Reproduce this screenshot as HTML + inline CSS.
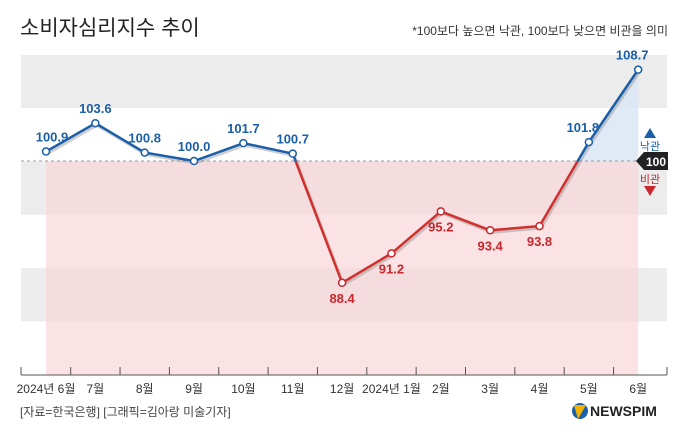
<!DOCTYPE html>
<html><head><meta charset="utf-8"><style>
body{margin:0;background:#fff;font-family:"Liberation Sans","Noto Sans CJK KR",sans-serif}
svg text{font-family:"Liberation Sans","Noto Sans CJK KR",sans-serif}
</style></head><body>
<svg id="c" width="680" height="442" viewBox="0 0 680 442">
<text x="20" y="35" font-size="21" fill="#222">소비자심리지수 추이</text>
<text x="668" y="35" font-size="12" fill="#333" text-anchor="end">*100보다 높으면 낙관, 100보다 낮으면 비관을 의미</text>
<g id="bands"></g>
<g id="fills"></g>
<line x1="21" y1="161" x2="638" y2="161" stroke="#999" stroke-dasharray="3,3"/>
<g id="lines"></g>
<g id="pts"></g>
<line x1="21" y1="375" x2="667" y2="375" stroke="#555"/>
<g id="xax"></g>
<polygon points="636,161 644,152 668,152 668,170 644,170" fill="#222"/>
<text x="656" y="166" font-size="12" font-weight="bold" fill="#fff" text-anchor="middle">100</text>
<polygon points="644,138 650,128 656,138" fill="#1a5fa8"/>
<text x="650" y="150" font-size="11" fill="#1a5fa8" text-anchor="middle">낙관</text>
<text x="650" y="183" font-size="11" fill="#c8282d" text-anchor="middle">비관</text>
<polygon points="644,186 656,186 650,196" fill="#c8282d"/>
<text x="20" y="416" font-size="12" fill="#444">[자료=한국은행] [그래픽=김아랑 미술기자]</text>
<circle cx="580" cy="411" r="8" fill="#1a5fa8"/>
<path d="M574 405 L586 405 L578 419 Z" fill="#f2b300"/>
<text x="590" y="416" font-size="14" font-weight="bold" fill="#222">NEWSPIM</text>
</svg>
<script>
const months=["2024년 6월","7월","8월","9월","10월","11월","12월","2024년 1월","2월","3월","4월","5월","6월"];
const values=[100.9,103.6,100.8,100.0,101.7,100.7,88.4,91.2,95.2,93.4,93.8,101.8,108.7];
const labels=["100.9","103.6","100.8","100.0","101.7","100.7","88.4","91.2","95.2","93.4","93.8","101.8","108.7"];
const NS="http://www.w3.org/2000/svg";
const X=i=>46+i*49.35, Y=v=>161-(v-100)*10.5;
function mk(t,a,p){const e=document.createElementNS(NS,t);for(const k in a)e.setAttribute(k,a[k]);p.appendChild(e);return e;}
const bands=document.getElementById('bands');
for(let k=0;k<6;k++){const r=mk('rect',{x:21,y:55+k*53.3,width:646,height:53.3,fill:k%2==0?'#ececec':'#fff'},bands);

}
const fills=document.getElementById('fills');
const pink=mk('rect',{x:X(0),y:161,width:X(12)-X(0),height:214,fill:'#f9d6d8',opacity:0.7},fills);


const xc=X(10)+(X(11)-X(10))*(100-values[10])/(values[11]-values[10]);
const bf=mk('polygon',{points:`${xc},161 ${X(11)},${Y(values[11])} ${X(12)},${Y(values[12])} ${X(12)},161`,fill:'#dce8f5',opacity:0.9},fills);


const pts=values.map((v,i)=>X(i)+','+Y(v)).join(' ');
const L=document.getElementById('lines');
const defs=mk('defs',{},L);
const c1=mk('clipPath',{id:'ab'},defs);mk('rect',{x:0,y:0,width:680,height:161},c1);
const c2=mk('clipPath',{id:'bl'},defs);mk('rect',{x:0,y:161,width:680,height:300},c2);
mk('polyline',{points:pts,fill:'none',stroke:'#888',opacity:0.4,'stroke-width':3,transform:'translate(1.5,2)'},L);
const lb=mk('polyline',{points:pts,fill:'none',stroke:'#1a5fa8','stroke-width':2.5,'clip-path':'url(#ab)'},L);


const lr=mk('polyline',{points:pts,fill:'none',stroke:'#d0312d','stroke-width':2.5,'clip-path':'url(#bl)'},L);


const P=document.getElementById('pts'),XA=document.getElementById('xax');
values.forEach((v,i)=>{
 const up=v>=100,col=up?'#1a5fa8':'#c8282d';
 const c=mk('circle',{cx:X(i),cy:Y(v),r:3.5,fill:'#fff',stroke:up?'#1a5fa8':'#c8282d','stroke-width':1.5},P);
 
 
 let tx=X(i),ty=up?Y(v)-10:Y(v)+20;
 if(i==0)tx+=6; if(i==12)tx-=6; if(i==11)tx-=6;
 const t=mk('text',{x:tx,y:ty,'font-size':13,'font-weight':'bold',fill:col,'text-anchor':'middle'},P);
 t.textContent=labels[i];
 
 
 const m=mk('text',{x:X(i),y:393,'font-size':12,fill:'#333','text-anchor':'middle'},XA);
 m.textContent=months[i];
 
 
});
for(let k=0;k<14;k++){const xx=k==0?21:(k==13?667:X(k-1)+24.7);
 const tk=mk('line',{x1:xx,y1:367,x2:xx,y2:375,stroke:'#555'},XA);
 
 }
</script>
</body></html>
